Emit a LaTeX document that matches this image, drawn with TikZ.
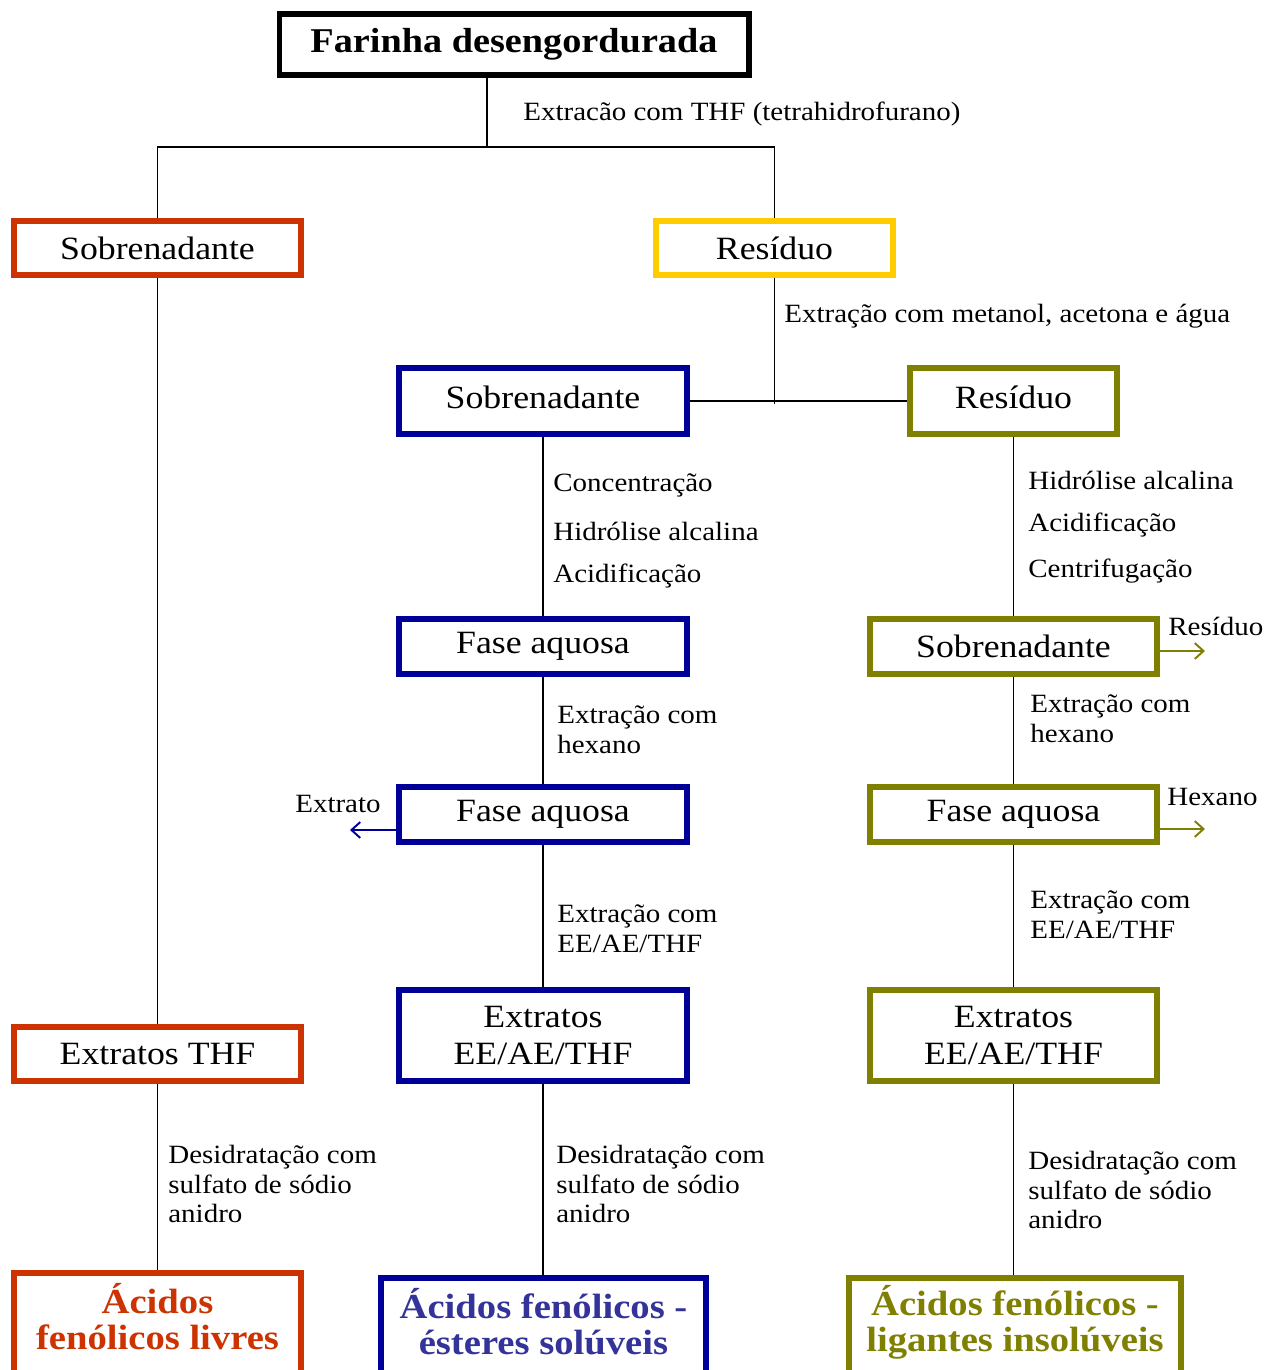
\documentclass[tikz,border=0pt]{standalone}
\usepackage{fontspec}
\setmainfont{Liberation Serif}[FakeStretch=1.1]
\usetikzlibrary{arrows.meta}
\definecolor{cred}{HTML}{CC3300}
\definecolor{cblue}{HTML}{000099}
\definecolor{cbluet}{HTML}{333399}
\definecolor{colive}{HTML}{808000}
\definecolor{cyel}{HTML}{FFCC00}
\begin{document}
\begin{tikzpicture}[x=0.02cm,y=-0.02cm,
  box/.style={draw, line width=2.9pt, inner sep=0pt, align=center, font=\fontsize{18.5}{20.5}\selectfont},
  finbox/.style={draw, line width=2.9pt, inner sep=0pt},
  fin/.style={inner sep=0pt, align=center, font=\bfseries\fontsize{20}{20.5}\selectfont},
  lbl/.style={anchor=west, align=left, inner sep=0pt, font=\fontsize{15}{17}\selectfont},
  conn/.style={line width=1.1pt},
  side/.style={line width=1.1pt, -{Straight Barb[length=5pt,width=9pt,line width=1.1pt]}}]
\clip (0,0) rectangle (1279,1370);
\fill[white] (0,0) rectangle (1279,1370);

% boxes
\node[box, line width=2.9pt, minimum width=9.4cm, minimum height=1.22cm, font=\bfseries\fontsize{19.8}{21}\selectfont] (farinha) at (514,44.5) {Farinha desengordurada};
\node[box, cred, minimum width=5.74cm, minimum height=1.08cm] (redSob) at (157.5,248) {\textcolor{black}{Sobrenadante}};
\node[box, cyel, minimum width=4.74cm, minimum height=1.08cm] (yelRes) at (774.5,248) {\textcolor{black}{Resíduo}};
\node[box, cblue, minimum width=5.76cm, minimum height=1.32cm] (blueSob) at (543,401) {\textcolor{black}{\raisebox{4pt}{Sobrenadante}}};
\node[box, colive, minimum width=4.14cm, minimum height=1.32cm] (olRes) at (1013.5,401) {\textcolor{black}{\raisebox{4pt}{Resíduo}}};
\node[box, cblue, minimum width=5.76cm, minimum height=1.1cm] (blueFase1) at (543,646.5) {\textcolor{black}{Fase aquosa}};
\node[box, colive, minimum width=5.74cm, minimum height=1.1cm] (olSob) at (1013.5,646.5) {\textcolor{black}{Sobrenadante}};
\node[box, cblue, minimum width=5.76cm, minimum height=1.1cm] (blueFase2) at (543,814.5) {\textcolor{black}{Fase aquosa}};
\node[box, colive, minimum width=5.74cm, minimum height=1.1cm] (olFase) at (1013.5,814.5) {\textcolor{black}{Fase aquosa}};
\node[box, cblue, minimum width=5.76cm, minimum height=1.82cm, text=black] (blueExt) at (543,1035.5) {Extratos\\EE/AE/THF};
\node[box, colive, minimum width=5.74cm, minimum height=1.82cm, text=black] (olExt) at (1013.5,1035.5) {Extratos\\EE/AE/THF};
\node[box, cred, minimum width=5.74cm, minimum height=1.08cm] (redExt) at (157.5,1054) {\textcolor{black}{Extratos THF}};
\node[finbox, cred, minimum width=5.74cm, minimum height=2.34cm] (redAc) at (157.5,1331.5) {};
\node[finbox, cblue, minimum width=6.5cm, minimum height=2.24cm] (blueAc) at (543.5,1334) {};
\node[finbox, colive, minimum width=6.64cm, minimum height=2.24cm] (olAc) at (1015,1334) {};
\node[fin, text=cred] (redAcT) at (157.5,1317) {Ácidos\\fenólicos livres};
\node[fin, text=cbluet] (blueAcT) at (543.5,1322) {Ácidos fenólicos -\\ésteres solúveis};
\node[fin, text=colive] (olAcT) at (1015,1322) {Ácidos fenólicos -\\ligantes insolúveis};

% connectors
\coordinate (j0) at (487,147);
\draw[conn] (j0 |- farinha.south) -- (j0);
\draw[conn] (redSob.north) -- (redSob.north |- j0) -- (yelRes.north |- j0) -- (yelRes.north);
\draw[conn] (yelRes.south) -- ([yshift=-1.5pt]yelRes.south |- blueSob.east);
\draw[conn] (blueSob.east) -- (olRes.west);
\draw[conn] (redSob.south) -- (redExt.north);
\draw[conn] (redExt.south) -- (redAc.north);
\draw[conn] (blueSob.south) -- (blueFase1.north);
\draw[conn] (blueFase1.south) -- (blueFase2.north);
\draw[conn] (blueFase2.south) -- (blueExt.north);
\draw[conn] (blueExt.south) -- (blueExt.south |- blueAc.north);
\draw[conn] (olRes.south) -- (olSob.north);
\draw[conn] (olSob.south) -- (olFase.north);
\draw[conn] (olFase.south) -- (olExt.north);
\draw[conn] (olExt.south) -- (olExt.south |- olAc.north);

% side arrows
\coordinate (extratoEnd) at (350,830);
\coordinate (residuoEnd) at (1205,651);
\coordinate (hexanoEnd) at (1205,829);
\draw[side, cblue] (extratoEnd -| blueFase2.west) -- (extratoEnd);
\draw[side, colive] (residuoEnd -| olSob.east) -- (residuoEnd);
\draw[side, colive] (hexanoEnd -| olFase.east) -- (hexanoEnd);
\node[lbl, anchor=east] (extratoL) at (381,804) {Extrato};
\node[lbl] (residuoL) at (1168,626) {Resíduo};
\node[lbl] (hexanoL) at (1167,797) {Hexano};

% labels
\node[lbl] (l1) at (523,114) {Extracão com THF (tetrahidrofurano)};
\node[lbl] (l2) at (784,316) {Extração com metanol, acetona e água};
\node[lbl] (l3) at (553,485) {Concentração};
\node[lbl] (l4) at (553,531) {Hidrólise alcalina};
\node[lbl] (l5) at (553,576) {Acidificação};
\node[lbl] (l6) at (1028,480) {Hidrólise alcalina};
\node[lbl] (l7) at (1028,525) {Acidificação};
\node[lbl] (l8) at (1028,571) {Centrifugação};
\node[lbl] (l9) at (557,730) {Extração com\\hexano};
\node[lbl] (l10) at (1030,719) {Extração com\\hexano};
\node[lbl] (l11) at (557,929) {Extração com\\EE/AE/THF};
\node[lbl] (l12) at (1030,915) {Extração com\\EE/AE/THF};
\node[lbl] (l13) at (168,1184) {Desidratação com\\sulfato de sódio\\anidro};
\node[lbl] (l14) at (556,1184) {Desidratação com\\sulfato de sódio\\anidro};
\node[lbl] (l15) at (1028,1190) {Desidratação com\\sulfato de sódio\\anidro};
\end{tikzpicture}
\end{document}
